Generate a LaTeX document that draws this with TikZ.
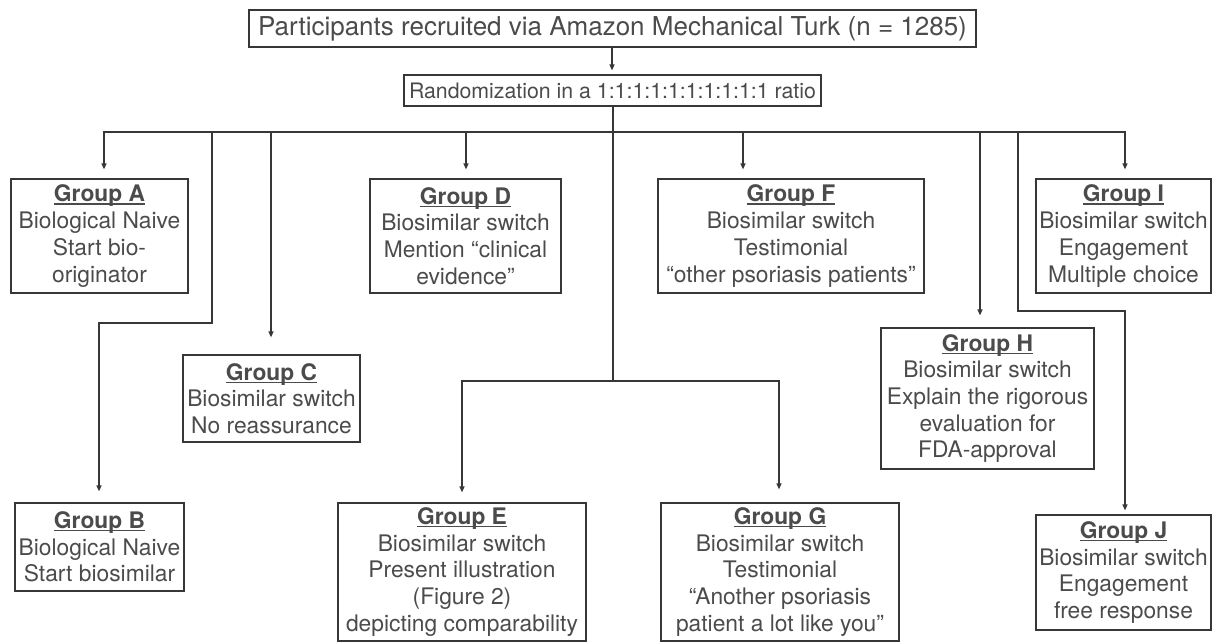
\documentclass[tikz,border=0pt]{standalone}
\usepackage{fontspec}
\setmainfont{TeX Gyre Heros}
\usetikzlibrary{arrows.meta}
\definecolor{txt}{RGB}{75,75,75}
\definecolor{ln}{RGB}{55,55,55}
\newcommand{\grp}[1]{\setbox0\hbox{\bfseries #1}\rlap{\color{txt}\rule[-2.6pt]{\wd0}{1.1pt}}\box0}
\begin{document}
\begin{tikzpicture}[x=1pt,y=-1pt,
  box/.style={draw=ln, line width=1.2pt, text=txt, inner sep=0pt, align=center,
    font=\fontsize{22.8}{26.7}\selectfont},
  conn/.style={draw=ln, line width=1.2pt},
  tip/.style={-{Triangle[length=6pt,width=5pt]}},
  tips/.style={{Triangle[length=6pt,width=5pt]}-{Triangle[length=6pt,width=5pt]}}]
\useasboundingbox (0,0) rectangle (1213,642);

\node[box, minimum width=727pt, minimum height=37pt, font=\fontsize{26}{30}\selectfont] (top) at (612.5,28.5) {Participants recruited via Amazon Mechanical Turk (n = 1285)};
\node[box, minimum width=417pt, minimum height=31pt, font=\fontsize{21.3}{25}\selectfont] (rand) at (612.5,90.5) {Randomization in a 1:1:1:1:1:1:1:1:1:1 ratio};

\node[box, minimum width=177pt, minimum height=114pt] (A) at (99.5,236) {\grp{Group A}\\Biological Naive\\Start bio-\\originator};
\node[box, minimum width=191pt, minimum height=114pt] (D) at (465.5,236) {\grp{Group D}\\Biosimilar switch\\Mention “clinical\\evidence”};
\node[box, minimum width=266pt, minimum height=114pt] (F) at (791,236) {\grp{Group F}\\Biosimilar switch\\Testimonial\\“other psoriasis patients”};
\node[box, minimum width=175pt, minimum height=114pt] (I) at (1123.5,236) {\grp{Group I}\\Biosimilar switch\\Engagement\\Multiple choice};
\node[box, minimum width=177pt, minimum height=87pt] (C) at (271.5,398.5) {\grp{Group C}\\Biosimilar switch\\No reassurance};
\node[box, minimum width=213pt, minimum height=141pt] (H) at (987.5,398.5) {\grp{Group H}\\Biosimilar switch\\Explain the rigorous\\evaluation for\\FDA-approval};
\node[box, minimum width=169pt, minimum height=88pt] (B) at (99.5,547) {\grp{Group B}\\Biological Naive\\Start biosimilar};
\node[box, minimum width=248pt, minimum height=138pt] (E) at (462,572) {\grp{Group E}\\Biosimilar switch\\Present illustration\\(Figure 2)\\depicting comparability};
\node[box, minimum width=238pt, minimum height=138pt] (G) at (780,572) {\grp{Group G}\\Biosimilar switch\\Testimonial\\“Another psoriasis\\patient a lot like you”};
\node[box, minimum width=175pt, minimum height=115pt] (J) at (1123.5,572.5) {\grp{Group J}\\Biosimilar switch\\Engagement\\free response};

% junction coordinates
\coordinate (jA) at (104,132);
\coordinate (jB) at (212,132);
\coordinate (jC) at (271,132);
\coordinate (jD) at (466,132);
\coordinate (jF) at (743,132);
\coordinate (jH) at (980,132);
\coordinate (jJ) at (1018,132);
\coordinate (jI) at (1125,132);
\coordinate (bB) at (212,323);
\coordinate (kB) at (99,323);
\coordinate (bJ) at (1018,311);
\coordinate (kJ) at (1125,311);
\coordinate (cT) at (612,47);
\coordinate (cR) at (613,106);
\coordinate (eg) at (613,381);
\coordinate (jE) at (462,381);
\coordinate (jG) at (779,381);

\draw[conn, tip, shorten >=4pt] (cT) -- (cT |- rand.north);
\draw[conn, tips, shorten <=9pt, shorten >=9pt] (jA |- A.north) -- (jA) -- (jI) -- (jI |- I.north);
\draw[conn] (cR) -- (eg);
\draw[conn, tips, shorten <=10pt, shorten >=13pt] (jE |- E.north) -- (jE) -- (jG) -- (jG |- G.north);
\draw[conn, tip, shorten >=9pt] (jD) -- (jD |- D.north);
\draw[conn, tip, shorten >=9pt] (jF) -- (jF |- F.north);
\draw[conn, tip, shorten >=17pt] (jC) -- (jC |- C.north);
\draw[conn, tip, shorten >=11pt] (jB) -- (bB) -- (kB) -- (kB |- B.north);
\draw[conn, tip, shorten >=12pt] (jH) -- (jH |- H.north);
\draw[conn, tip, shorten >=4pt] (jJ) -- (bJ) -- (kJ) -- (kJ |- J.north);
\end{tikzpicture}
\end{document}
